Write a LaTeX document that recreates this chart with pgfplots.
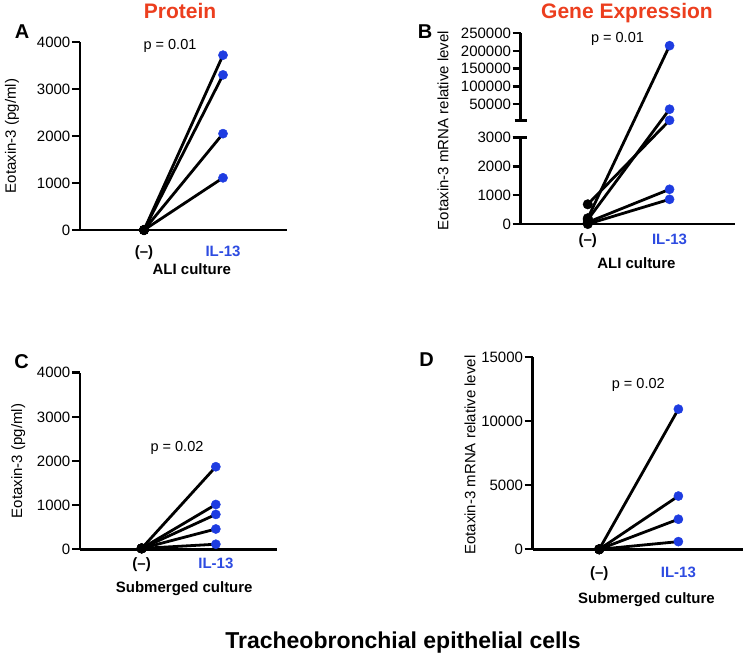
\documentclass[border=0pt]{standalone}
\usepackage{fontspec}
\setmainfont{Liberation Sans}
\usepackage{pgfplots}
\pgfplotsset{compat=1.18}
\definecolor{tred}{RGB}{236,62,30}
\definecolor{dblue}{RGB}{30,60,225}
\definecolor{lblue}{RGB}{45,75,225}
\newcommand{\fs}[1]{\fontsize{#1}{#1}\selectfont}
\pgfplotsset{
  panel/.style={
    scale only axis,
    anchor=south west,
    axis lines=left,
    axis line style={-, line width=2.6pt},
    xmin=0.19, xmax=2.81,
    xtick={1,2},
    xticklabels={\textbf{(–)},\textbf{\color{lblue}IL-13}},
    x tick style={draw=none},
    y tick style={line width=2.4pt, black},
    major tick length=8pt,
    tick align=outside,
    scaled ticks=false,
    tick label style={font=\fs{15}},
    yticklabel style={inner sep=1.5pt},
    /pgf/number format/assume math mode=true,
    /pgf/number format/1000 sep={},
    label style={font=\fs{15}},
    xlabel style={font=\bfseries\fs{15}},
    clip=false,
    ymin=0,
  },
  pair/.style={black, line width=2.8pt, no markers},
  ctrl/.style={only marks, mark=*, mark size=4.8pt, black},
  il/.style={only marks, mark=*, mark size=4.6pt, color=dblue, mark options={draw=dblue, fill=dblue}},
}
\begin{document}
\begin{tikzpicture}
\path[use as bounding box] (0pt,0pt) rectangle (747pt,664pt);

% ---------------- Panel A ----------------
\begin{axis}[panel, at={(80pt,434pt)}, width=207pt, height=188pt,
  ymax=4000, ytick={0,1000,2000,3000,4000},
  ylabel={Eotaxin-3 (pg/ml)},
  ylabel style={at={(axis description cs:-0.3285,0.5)}, anchor=center},
  xlabel={ALI culture},
  xlabel style={at={(axis description cs:0.54,0)}, anchor=base, yshift=-44.5pt},
  xticklabel style={anchor=base, yshift=-18.4pt}]
\addplot[pair] coordinates {(1,0) (2,3720)};
\addplot[pair] coordinates {(1,0) (2,3300)};
\addplot[pair] coordinates {(1,0) (2,2050)};
\addplot[pair] coordinates {(1,0) (2,1110)};
\addplot[ctrl] coordinates {(1,0) (1,0) (1,0) (1,0)};
\addplot[il] coordinates {(2,3720) (2,3300) (2,2050) (2,1110)};
\end{axis}

% ---------------- Panel B (broken axis) ----------------
\begin{axis}[panel, at={(520.7pt,440pt)}, width=214.3pt, height=190.7pt,
  xmin=0.18, xmax=2.8,
  ymax=6.625,
  y filter/.expression={ifthenelse(y<3001, y/1000, 3.59+(y-3000)/81384)},
  ytick={0,1,2,3,4.1675,4.7819,5.3962,6.0106,6.625},
  yticklabels={0,1000,2000,3000,50000,100000,150000,200000,250000},
  y axis line style={draw=none},
  ylabel={Eotaxin-3 mRNA relative level},
  ylabel style={at={(axis description cs:-0.3626,0.49)}, anchor=center},
  xlabel={ALI culture},
  xlabel style={at={(axis description cs:0.54,0)}, anchor=base, yshift=-45pt},
  xticklabel style={anchor=base, yshift=-12.5pt}]
\draw[line width=2.6pt] (rel axis cs:0,0) -- (rel axis cs:0,0.45283);
\draw[line width=2.6pt] (rel axis cs:0,0.54189) -- (rel axis cs:0,1);
\draw[line width=2.4pt] ([xshift=-8pt]rel axis cs:0,0.45283) -- ([xshift=6pt]rel axis cs:0,0.45283);
\draw[line width=2.4pt] ([xshift=-6pt]rel axis cs:0,0.54189) -- ([xshift=6pt]rel axis cs:0,0.54189);
\addplot[pair] coordinates {(1,684) (2,4000)};
\addplot[pair] coordinates {(1,200) (2,215000)};
\addplot[pair] coordinates {(1,150) (2,35300)};
\addplot[pair] coordinates {(1,60) (2,1205)};
\addplot[pair] coordinates {(1,0) (2,857)};
\addplot[ctrl] coordinates {(1,684) (1,200) (1,150) (1,60) (1,0)};
\addplot[il] coordinates {(2,215000) (2,35300) (2,4000) (2,1205) (2,857)};
\end{axis}

% ---------------- Panel C ----------------
\begin{axis}[panel, at={(80pt,114.7pt)}, width=196.7pt, height=176.6pt,
  xmin=0.17, xmax=2.82,
  ymax=4000, ytick={0,1000,2000,3000,4000},
  ylabel={Eotaxin-3 (pg/ml)},
  ylabel style={at={(axis description cs:-0.3137,0.5)}, anchor=center},
  xlabel={Submerged culture},
  xlabel style={at={(axis description cs:0.53,0)}, anchor=base, yshift=-43pt},
  xticklabel style={anchor=base, yshift=-11pt}]
\addplot[pair] coordinates {(1,20) (2,1870)};
\addplot[pair] coordinates {(1,20) (2,1015)};
\addplot[pair] coordinates {(1,20) (2,790)};
\addplot[pair] coordinates {(1,20) (2,460)};
\addplot[pair] coordinates {(1,20) (2,115)};
\addplot[ctrl] coordinates {(1,20) (1,20) (1,20) (1,20) (1,20)};
\addplot[il] coordinates {(2,1870) (2,1015) (2,790) (2,460) (2,115)};
\end{axis}

% ---------------- Panel D ----------------
\begin{axis}[panel, at={(532.7pt,114.7pt)}, width=210.6pt, height=192pt,
  xmin=0.16, xmax=2.82,
  ymax=15000, ytick={0,5000,10000,15000},
  ylabel={Eotaxin-3 mRNA relative level},
  ylabel style={at={(axis description cs:-0.2977,0.49)}, anchor=center},
  xlabel={Submerged culture},
  xlabel style={at={(axis description cs:0.54,0)}, anchor=base, yshift=-54pt},
  xticklabel style={anchor=base, yshift=-20pt}]
\addplot[pair] coordinates {(1,0) (2,10950)};
\addplot[pair] coordinates {(1,0) (2,4160)};
\addplot[pair] coordinates {(1,0) (2,2350)};
\addplot[pair] coordinates {(1,0) (2,600)};
\addplot[ctrl] coordinates {(1,0) (1,0) (1,0) (1,0)};
\addplot[il] coordinates {(2,10950) (2,4160) (2,2350) (2,600)};
\end{axis}

% ---------------- Texts ----------------
\node[anchor=base, font=\bfseries\fs{21}, text=tred] at (180pt,645.5pt) {Protein};
\node[anchor=base, font=\bfseries\fs{21}, text=tred] at (627pt,645pt) {Gene Expression};
\node[anchor=base, font=\bfseries\fs{20}] at (22pt,625.5pt) {A};
\node[anchor=base, font=\bfseries\fs{20}] at (425pt,625.7pt) {B};
\node[anchor=base, font=\bfseries\fs{20}] at (21.7pt,295.7pt) {C};
\node[anchor=base, font=\bfseries\fs{20}] at (426.7pt,297.3pt) {D};
\node[anchor=base, font=\fs{14.5}] at (170pt,614pt) {p = 0.01};
\node[anchor=base, font=\fs{14.5}] at (617.5pt,621.3pt) {p = 0.01};
\node[anchor=base, font=\fs{14.5}] at (177pt,212.3pt) {p = 0.02};
\node[anchor=base, font=\fs{14.5}] at (638.3pt,275.7pt) {p = 0.02};
\node[anchor=base, font=\bfseries\fs{23}] at (403pt,15.5pt) {Tracheobronchial epithelial cells};
\end{tikzpicture}
\end{document}
